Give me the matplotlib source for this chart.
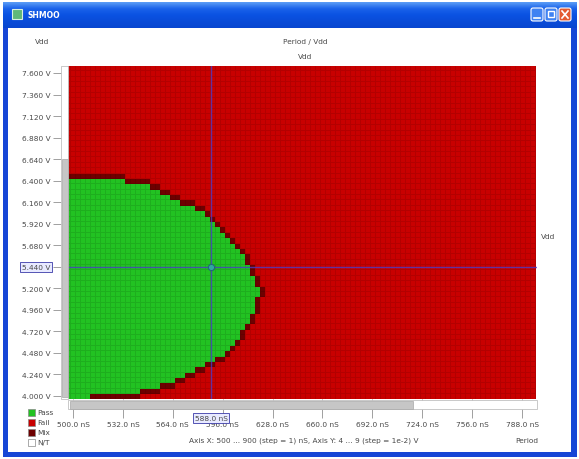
import numpy as np
import matplotlib
matplotlib.use('Agg')
import matplotlib.pyplot as plt
from matplotlib.colors import ListedColormap, LinearSegmentedColormap
from matplotlib.patches import Rectangle, FancyBboxPatch

W, H = 579, 460

# sweep grid of the shmoo (nS, V)
period_start, period_step, n_period = 496.8, 3.2, 94
vdd_start, vdd_step, n_vdd = 4.00, 0.06, 62

# last passing period (nS) for each Vdd row
pass_vdd = [4.00, 4.06, 4.12, 4.18, 4.24, 4.30, 4.36, 4.42, 4.48, 4.54,
            4.60, 4.66, 4.72, 4.78, 4.84, 4.90, 4.96, 5.02, 5.08, 5.14,
            5.20, 5.26, 5.32, 5.38, 5.44, 5.50, 5.56, 5.62, 5.68, 5.74,
            5.80, 5.86, 5.92, 5.98, 6.04, 6.10, 6.16, 6.22, 6.28, 6.34, 6.40]
pass_limit = [512, 542, 556, 564, 571, 578, 585, 592, 596, 600,
              603, 606, 608, 611, 613, 615, 616, 618, 618, 619,
              619, 617, 616, 614, 613, 611, 609, 607, 605, 602,
              599, 595, 592, 588, 584, 577, 570, 563, 557, 549, 534]

y_ticks = [7.600, 7.360, 7.120, 6.880, 6.640, 6.400, 6.160, 5.920,
           5.680, 5.440, 5.200, 4.960, 4.720, 4.480, 4.240, 4.000]
x_ticks = [500, 532, 564, 596, 628, 660, 692, 724, 756, 788]

cursor_period, cursor_vdd = 588.5, 5.44

legend_labels = ['Pass', 'Fail', 'Mix', 'N/T']
legend_colors = ['#22c222', '#c80000', '#6e0000', '#ffffff']

# status grid: 0 fail, 1 pass, 2 mix
periods = period_start + period_step * np.arange(n_period)
vdds = vdd_start + vdd_step * np.arange(n_vdd)
status = np.zeros((n_vdd, n_period), dtype=int)
for v, lim in zip(pass_vdd, pass_limit):
    r = int(round((v - vdd_start) / vdd_step))
    status[r, periods <= lim] = 1
passed = status == 1
pad = np.pad(passed, 1)
near = np.zeros_like(passed)
for dy, dx in [(-1, 0), (1, 0), (0, -1), (0, 1)]:
    near |= pad[1 + dy:1 + dy + n_vdd, 1 + dx:1 + dx + n_period]
status[near & ~passed] = 2

xe = np.append(periods - period_step / 2, periods[-1] + period_step / 2)
ye = np.append(vdds - vdd_step / 2, vdds[-1] + vdd_step / 2)

fig = plt.figure(figsize=(W / 100, H / 100), dpi=100)
fig.patch.set_facecolor('white')

# ---- window frame ----
bg = fig.add_axes([0, 0, 1, 1], zorder=-5)
bg.set_xlim(0, W)
bg.set_ylim(H, 0)
bg.axis('off')
title_cmap = LinearSegmentedColormap.from_list(
    't', ['#5a9cf6', '#1a62ea', '#0a52e2', '#0a4cd8', '#0846d0'])
grad = np.linspace(0, 1, 50).reshape(-1, 1)
bg.imshow(grad, cmap=title_cmap, extent=(3, 577, 29, 3), aspect='auto')
bg.add_patch(Rectangle((3, 29), 5, 428, color='#1646d6', lw=0))
bg.add_patch(Rectangle((571, 29), 6, 428, color='#1646d6', lw=0))
bg.add_patch(Rectangle((3, 453), 574, 5, color='#1646d6', lw=0))
bg.add_patch(Rectangle((8, 29), 563, 424, color='white', lw=0))
bg.add_patch(Rectangle((12, 10), 10, 10, facecolor='#5fb878', edgecolor='#d8f0e0', lw=0.8))
bg.text(28, 16, 'SHMOO', color='white', fontsize=5.5, fontweight='bold', va='center')
for bx, col in [(531, '#3f82f2'), (545, '#3f82f2'), (559, '#e35a30')]:
    bg.add_patch(FancyBboxPatch((bx, 9), 12, 13, boxstyle='round,pad=0,rounding_size=2',
                                facecolor=col, edgecolor='white', lw=0.8))
bg.plot([534, 540], [19, 19], color='white', lw=1.2)
bg.add_patch(Rectangle((548, 12), 6, 6, fill=False, edgecolor='white', lw=1))
bg.plot([562, 568], [12, 19], color='white', lw=1.2)
bg.plot([562, 568], [19, 12], color='white', lw=1.2)

txt = dict(fontsize=5.3, color='#484848')
bg.text(42, 42, 'Vdd', ha='center', va='center', **txt)
bg.text(305, 42, 'Period / Vdd', ha='center', va='center', **txt)
bg.text(305, 57, 'Vdd', ha='center', va='center', **txt)
bg.text(548, 237, 'Vdd', ha='center', va='center', **txt)
bg.text(538, 441, 'Period', ha='right', va='center', **txt)
bg.text(304, 441, 'Axis X: 500 ... 900 (step = 1) nS, Axis Y: 4 ... 9 (step = 1e-2) V',
        ha='center', va='center', **txt)
for i, (lab, col) in enumerate(zip(legend_labels, legend_colors)):
    y0 = 410 + i * 10
    bg.add_patch(Rectangle((28, y0), 7, 7, facecolor=col, edgecolor='#888888', lw=0.5))
    bg.text(37, y0 + 3.5, lab, ha='left', va='center', **txt)

# ---- shmoo plot ----
ax = fig.add_axes([68 / W, (H - 400) / H, (537 - 68) / W, (400 - 67) / H], zorder=1)
ax.pcolormesh(xe, ye, status, cmap=ListedColormap(['#c80000', '#22c222', '#6e0000']),
              vmin=-0.5, vmax=2.5, edgecolors=(0, 0, 0, 0.10), linewidth=0.5)
ax.set_xlim(496.8, 797.6)
ax.set_ylim(3.966, 7.678)
for s in ax.spines.values():
    s.set_visible(False)

ax.axvline(cursor_period, color='#4a3cc8', lw=1, alpha=0.8)
ax.axhline(cursor_vdd, color='#4a3cc8', lw=1, alpha=0.8)
ax.plot([cursor_period], [cursor_vdd], 'o', ms=4.5, mfc='#30a8a0', mec='#206878', mew=0.8)

ax.set_yticks(y_ticks)
ax.set_yticklabels([f'{v:.3f} V' for v in y_ticks])
ax.set_xticks(x_ticks)
ax.set_xticklabels([f'{v:.1f} nS' for v in x_ticks])
ax.tick_params(axis='y', length=11, width=0.6, color='#909090', pad=1.5,
               labelsize=5.3, labelcolor='#484848')
ax.tick_params(axis='x', length=14, width=0.6, color='#909090', pad=1.5,
               labelsize=5.3, labelcolor='#484848')
for lab in ax.get_yticklabels():
    if lab.get_text() == f'{cursor_vdd:.3f} V':
        lab.set_bbox(dict(boxstyle='square,pad=0.25', facecolor='#e8eaff', edgecolor='#3a3aa8', lw=0.6))
ax.annotate(f'{cursor_period - 0.5:.1f} nS', xy=(cursor_period, 0), xycoords=('data', 'axes fraction'),
            xytext=(0, -19), textcoords='offset pixels', ha='center', va='center',
            fontsize=5.3, color='#484848', annotation_clip=False,
            bbox=dict(boxstyle='square,pad=0.25', facecolor='#e8eaff', edgecolor='#3a3aa8', lw=0.6))

# ---- scrollbars ----
ov = fig.add_axes([0, 0, 1, 1], zorder=5)
ov.set_xlim(0, W)
ov.set_ylim(H, 0)
ov.axis('off')
ov.patch.set_alpha(0)
ov.add_patch(Rectangle((61, 67), 7, 333, facecolor='white', edgecolor='#c0c0c0', lw=0.6))
ov.add_patch(Rectangle((61.5, 160), 6, 238, facecolor='#c6c6c6', edgecolor='#a8a8a8', lw=0.5))
ov.add_patch(Rectangle((68, 401), 469, 9, facecolor='white', edgecolor='#c0c0c0', lw=0.6))
ov.add_patch(Rectangle((70, 401.5), 343, 8, facecolor='#c6c6c6', edgecolor='#a8a8a8', lw=0.5))

fig.savefig('out.png', dpi=100)
